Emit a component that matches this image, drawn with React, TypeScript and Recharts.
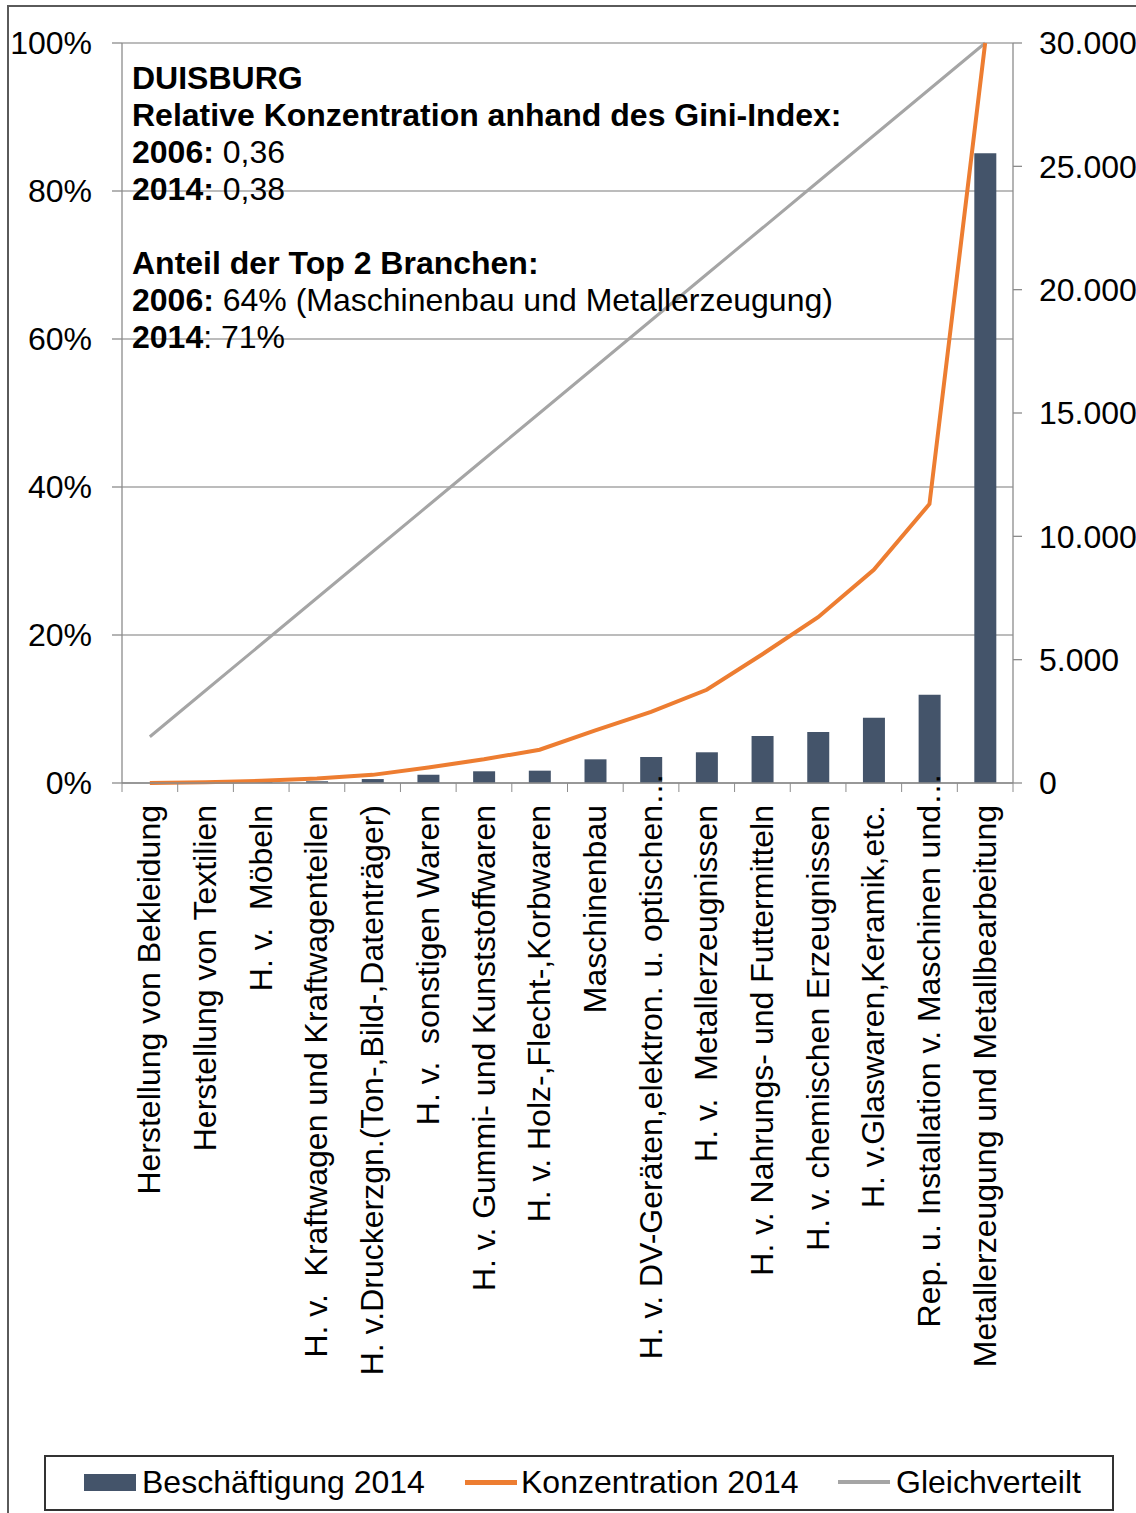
import { ComposedChart, Bar, Line, XAxis, YAxis, CartesianGrid } from "recharts";

const categories = [
  "Herstellung von Bekleidung",
  "Herstellung von Textilien",
  "H. v.  Möbeln",
  "H. v.  Kraftwagen und Kraftwagenteilen",
  "H. v.Druckerzgn.(Ton-,Bild-,Datenträger)",
  "H. v.  sonstigen Waren",
  "H. v. Gummi- und Kunststoffwaren",
  "H. v. Holz-,Flecht-,Korbwaren",
  "Maschinenbau",
  "H. v. DV-Geräten,elektron. u. optischen…",
  "H. v.  Metallerzeugnissen",
  "H. v. Nahrungs- und Futtermitteln",
  "H. v. chemischen Erzeugnissen",
  "H. v.Glaswaren,Keramik,etc.",
  "Rep. u. Installation v. Maschinen und…",
  "Metallerzeugung und Metallbearbeitung",
];

// Beschäftigte 2014 (rechte Achse)
const beschaeftigung = [0, 15, 40, 70, 160, 335, 475, 500, 960, 1055, 1245, 1905, 2065, 2650, 3580, 25530];

// kumulierter Anteil in % (linke Achse)
const konzentration = [0, 0.1, 0.3, 0.6, 1.1, 2.1, 3.2, 4.5, 7.1, 9.6, 12.6, 17.4, 22.4, 28.8, 37.7, 100];
const gleichverteilt = [6.25, 12.5, 18.75, 25, 31.25, 37.5, 43.75, 50, 56.25, 62.5, 68.75, 75, 81.25, 87.5, 93.75, 100];

const leftTicks = [0, 20, 40, 60, 80, 100];
const rightTicks = [0, 5000, 10000, 15000, 20000, 25000, 30000];

const data = categories.map((name, i) => ({
  name,
  beschaeftigung: beschaeftigung[i],
  konzentration: konzentration[i],
  gleichverteilt: gleichverteilt[i],
}));

const FONT = '"Liberation Sans", Arial, sans-serif';
const FS = 32;
const AXIS = "#8c8c8c";
const GRID = "#a6a6a6";
const W = 1136;
const H = 1513;
const PLOT_LEFT = 122;
const PLOT_RIGHT = 1013;
const PLOT_TOP = 43;
const PLOT_BOTTOM = 783;
const STEP = (PLOT_RIGHT - PLOT_LEFT) / categories.length;
const LABEL_GAP = 22;

const fmtThousands = (v: number) => String(v).replace(/\B(?=(\d{3})+(?!\d))/g, ".");

const CategoryTick = (props: any) => {
  const { x, y, payload, index } = props;
  const axisY = y - LABEL_GAP;
  // abgeschnittene Beschriftungen: Auslassungspunkte ragen über die Achse hinaus
  const labelY = String(payload.value).endsWith("…") ? y - FS : y;
  return (
    <g>
      <line x1={x - STEP / 2} y1={axisY} x2={x - STEP / 2} y2={axisY + 9} stroke={AXIS} />
      {index === categories.length - 1 && (
        <line x1={x + STEP / 2} y1={axisY} x2={x + STEP / 2} y2={axisY + 9} stroke={AXIS} />
      )}
      <text
        transform={`translate(${x},${labelY}) rotate(-90)`}
        textAnchor="end"
        dy="0.33em"
        fontSize={FS}
        fontFamily={FONT}
        fill="#000"
        style={{ whiteSpace: "pre" }}
      >
        {payload.value}
      </text>
    </g>
  );
};

const legendItems = [
  { label: "Beschäftigung 2014", left: 38, textLeft: 96, kind: "bar", color: "#44546A" },
  { label: "Konzentration 2014", left: 419, textLeft: 475, kind: "line", color: "#ED7D31" },
  { label: "Gleichverteilt", left: 792, textLeft: 850, kind: "line", color: "#A5A5A5" },
];

const App = () => {
  return (
    <div style={{ position: "absolute", left: 0, top: 0, width: W, height: H, background: "#fff", overflow: "hidden", fontFamily: FONT }}>
      {/* Rahmen */}
      <div style={{ position: "absolute", left: 7, top: 5, width: W, height: H, borderLeft: "2px solid #5a5a5a", borderTop: "2px solid #5a5a5a" }} />

      <ComposedChart
        width={W}
        height={H}
        data={data}
        margin={{ top: PLOT_TOP, right: 0, bottom: 0, left: 0 }}
        style={{ position: "absolute", left: 0, top: 0 }}
      >
        <CartesianGrid yAxisId="left" vertical={false} stroke={GRID} strokeWidth={1.3} />
        <XAxis
          dataKey="name"
          interval={0}
          height={H - PLOT_BOTTOM}
          tickLine={false}
          tickSize={0}
          tickMargin={LABEL_GAP}
          axisLine={{ stroke: AXIS, strokeWidth: 1.3 }}
          tick={<CategoryTick />}
        />
        <YAxis
          yAxisId="left"
          orientation="left"
          width={PLOT_LEFT}
          domain={[0, 100]}
          ticks={leftTicks}
          tickFormatter={(v) => `${v}%`}
          tickSize={10}
          tickMargin={20}
          axisLine={{ stroke: AXIS, strokeWidth: 1.3 }}
          tickLine={{ stroke: AXIS, strokeWidth: 1.3 }}
          tick={{ fill: "#000", fontSize: FS, fontFamily: FONT }}
        />
        <YAxis
          yAxisId="right"
          orientation="right"
          width={W - PLOT_RIGHT}
          domain={[0, 30000]}
          ticks={rightTicks}
          tickFormatter={fmtThousands}
          tickSize={9}
          tickMargin={17}
          axisLine={{ stroke: AXIS, strokeWidth: 1.3 }}
          tickLine={{ stroke: AXIS, strokeWidth: 1.3 }}
          tick={{ fill: "#000", fontSize: FS, fontFamily: FONT }}
        />
        <Bar yAxisId="right" dataKey="beschaeftigung" fill="#44546A" barSize={22} isAnimationActive={false} />
        <Line
          yAxisId="left"
          type="linear"
          dataKey="gleichverteilt"
          stroke="#A5A5A5"
          strokeWidth={3}
          dot={false}
          isAnimationActive={false}
        />
        <Line
          yAxisId="left"
          type="linear"
          dataKey="konzentration"
          stroke="#ED7D31"
          strokeWidth={4}
          dot={false}
          isAnimationActive={false}
        />
      </ComposedChart>

      {/* Textfeld */}
      <div style={{ position: "absolute", left: 132, top: 60, fontSize: FS, lineHeight: "37px", color: "#000", whiteSpace: "pre" }}>
        <div><b>DUISBURG</b></div>
        <div><b>Relative Konzentration anhand des Gini-Index:</b></div>
        <div><b>2006:</b> 0,36</div>
        <div><b>2014:</b> 0,38</div>
        <div>&nbsp;</div>
        <div><b>Anteil der Top 2 Branchen:</b></div>
        <div><b>2006:</b> 64% (Maschinenbau und Metallerzeugung)</div>
        <div><b>2014</b>: 71%</div>
      </div>

      {/* Legende */}
      <div style={{ position: "absolute", left: 44, top: 1455, width: 1066, height: 52, border: "2px solid #333" }}>
        {legendItems.map((it) => (
          <div key={it.label}>
            {it.kind === "bar" ? (
              <div style={{ position: "absolute", left: it.left, top: 17, width: 52, height: 17, background: it.color }} />
            ) : (
              <div style={{ position: "absolute", left: it.left, top: 23, width: 52, height: it.color === "#ED7D31" ? 5 : 4, background: it.color }} />
            )}
            <div style={{ position: "absolute", left: it.textLeft, top: 7, fontSize: FS, lineHeight: "37px", whiteSpace: "pre" }}>
              {it.label}
            </div>
          </div>
        ))}
      </div>
    </div>
  );
};

export default App;
